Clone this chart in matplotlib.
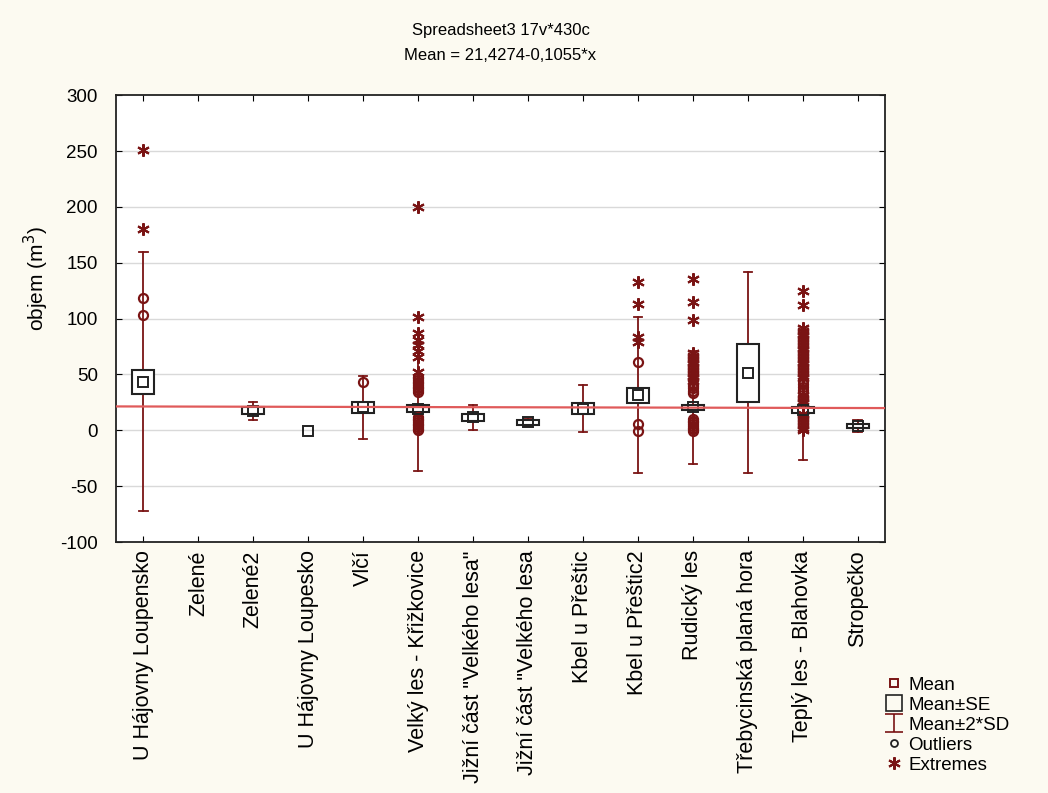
import matplotlib.pyplot as plt
import numpy as np
from matplotlib.path import Path
from matplotlib.lines import Line2D

plt.rcParams['font.family'] = ['Liberation Sans', 'DejaVu Sans']
plt.rcParams['axes.unicode_minus'] = False

categories = ['U Hájovny Loupensko', 'Zelené', 'Zelené2', 'U Hájovny Loupesko', 'Vlčí',
              'Velký les - Křižkovice', 'Jižní část "Velkého lesa"', 'Jižní část "Velkého lesa',
              'Kbel u Přeštic', 'Kbel u Přeštic2', 'Rudický les', 'Třebycinská planá hora',
              'Teplý les - Blahovka', 'Stropečko']
means = [43.5, np.nan, 17.5, -0.5, 20.5, 19.5, 11.5, 7.0, 19.5, 31.5, 20.5, 51.5, 18.0, 4.0]
se = [10.8, np.nan, 3.0, 0.0, 4.7, 3.0, 3.0, 2.0, 5.0, 6.7, 2.5, 25.8, 2.5, 2.0]
sd2 = [116.0, np.nan, 8.2, 0.0, 28.0, 55.5, 11.3, 3.5, 21.0, 69.5, 50.5, 90.0, 45.0, 5.5]

outliers = {
    0: [118.5, 103.5],
    4: [43.5],
    5: [48, 46.5, 45, 43.5, 42, 40.5, 39, 37.5, 36, 34.5,
        12, 10.5, 9, 7.5, 6, 4.5, 3, 1.5, 0],
    9: [61.5, 6, -1],
    10: [41.5, 39.5, 37.5, 35.5, 33.5, 10, 8.5, 7, 5.5, 4, 2.5, 1, -0.5],
    12: [44, 41.5, 39, 36.5, 34],
}
extremes = {
    0: [251, 180],
    5: [200, 101, 87, 81, 76, 71, 66, 52],
    9: [133, 113, 83.5, 79],
    10: [135.5, 115, 99, 69, 66.5, 64, 61.5, 59, 56.5, 54, 51.5, 49, 46.5, 44],
    12: [124.5, 112, 92, 89, 86.5, 84, 81.5, 79, 76.5, 74, 71.5, 69, 66.5, 64, 61.5,
         59, 56.5, 54, 51.5, 49, 46.5, 31.5, 29, 26.5, 24,
         15, 12.5, 10, 7.5, 5, 2.5, 0],
}

# fitted line from the title
b0, b1 = 21.4274, -0.1055

dark = '#7a1414'
star = (6, 2, 0)
fig = plt.figure(figsize=(10.48, 7.93), dpi=100, facecolor='#fcfaf1')
ax = fig.add_axes([0.1107, 0.3165, 0.7338, 0.5635])
ax.set_facecolor('white')

pos = np.arange(len(categories))
ax.set_xlim(-0.5, len(categories) - 0.5)
ax.set_ylim(-100, 300)
ax.set_yticks(np.arange(-100, 301, 50))
for g in np.arange(-50, 300, 50):
    ax.axhline(g, color='#d9d9d9', lw=1, zorder=0)

bw = 0.4
cw = 0.075
for i in pos:
    m = means[i]
    if np.isnan(m):
        continue
    if sd2[i] > 0:
        ax.plot([i, i], [m - sd2[i], m + sd2[i]], color=dark, lw=1.3, zorder=2)
        ax.plot([i - cw, i + cw], [m + sd2[i]] * 2, color=dark, lw=1.3, zorder=2)
        ax.plot([i - cw, i + cw], [m - sd2[i]] * 2, color=dark, lw=1.3, zorder=2)
    if se[i] > 0:
        ax.add_patch(plt.Rectangle((i - bw / 2, m - se[i]), bw, 2 * se[i],
                                   facecolor='white', edgecolor='#222222', lw=1.5, zorder=3))
    for v in outliers.get(i, []):
        ax.plot(i, v, 'o', mfc='none', mec=dark, ms=6.5, mew=1.6, zorder=4)
    for v in extremes.get(i, []):
        ax.plot(i, v, marker=star, ls='none', color=dark, ms=9, mew=1.5, zorder=4)
    ax.plot(i, m, 's', mfc='none', mec='#222222', ms=7, mew=1.4, zorder=5)

xl = np.array(ax.get_xlim())
ax.plot(xl, b0 + b1 * (xl + 1), color='#e05a5a', lw=1.6, zorder=6)

ax.set_xticks(pos)
ax.set_xticklabels(categories, rotation=90, fontsize=15.5)
ax.tick_params(axis='both', direction='in', top=True, right=True, length=4)
ax.tick_params(axis='y', labelright=False, labelsize=13.5, pad=13)
ax.tick_params(axis='x', pad=6)
for s in ax.spines.values():
    s.set_linewidth(1.3)
    s.set_color('#222222')
ax.set_ylabel('objem (m$^3$)', fontsize=15)
ax.yaxis.set_label_coords(-0.085, 0.59)
ax.set_title('Spreadsheet3 17v*430c\nMean = 21,4274-0,1055*x', fontsize=12, pad=25,
             linespacing=1.9)

ibeam = Path([(-1, 1), (1, 1), (0, 1), (0, -1), (-1, -1), (1, -1)],
             [Path.MOVETO, Path.LINETO, Path.MOVETO, Path.LINETO, Path.MOVETO, Path.LINETO])
handles = [
    Line2D([], [], ls='none', marker='s', mfc='none', mec=dark, ms=6, mew=1.4),
    Line2D([], [], ls='none', marker='s', mfc='none', mec='#222222', ms=12, mew=1.2),
    Line2D([], [], ls='none', marker=ibeam, color=dark, ms=13, mew=1.2),
    Line2D([], [], ls='none', marker='o', mfc='none', mec='#222222', ms=5, mew=1.3),
    Line2D([], [], ls='none', marker=star, color=dark, ms=9, mew=1.5),
]
labels = ['Mean', 'Mean±SE', 'Mean±2*SD', 'Outliers', 'Extremes']
fig.legend(handles, labels, loc='lower left', bbox_to_anchor=(0.838, 0.015), frameon=False,
           fontsize=13.5, handlelength=0.9, handletextpad=0.3, labelspacing=0.15,
           borderaxespad=0)

fig.savefig('out.png', dpi=100, facecolor=fig.get_facecolor())
